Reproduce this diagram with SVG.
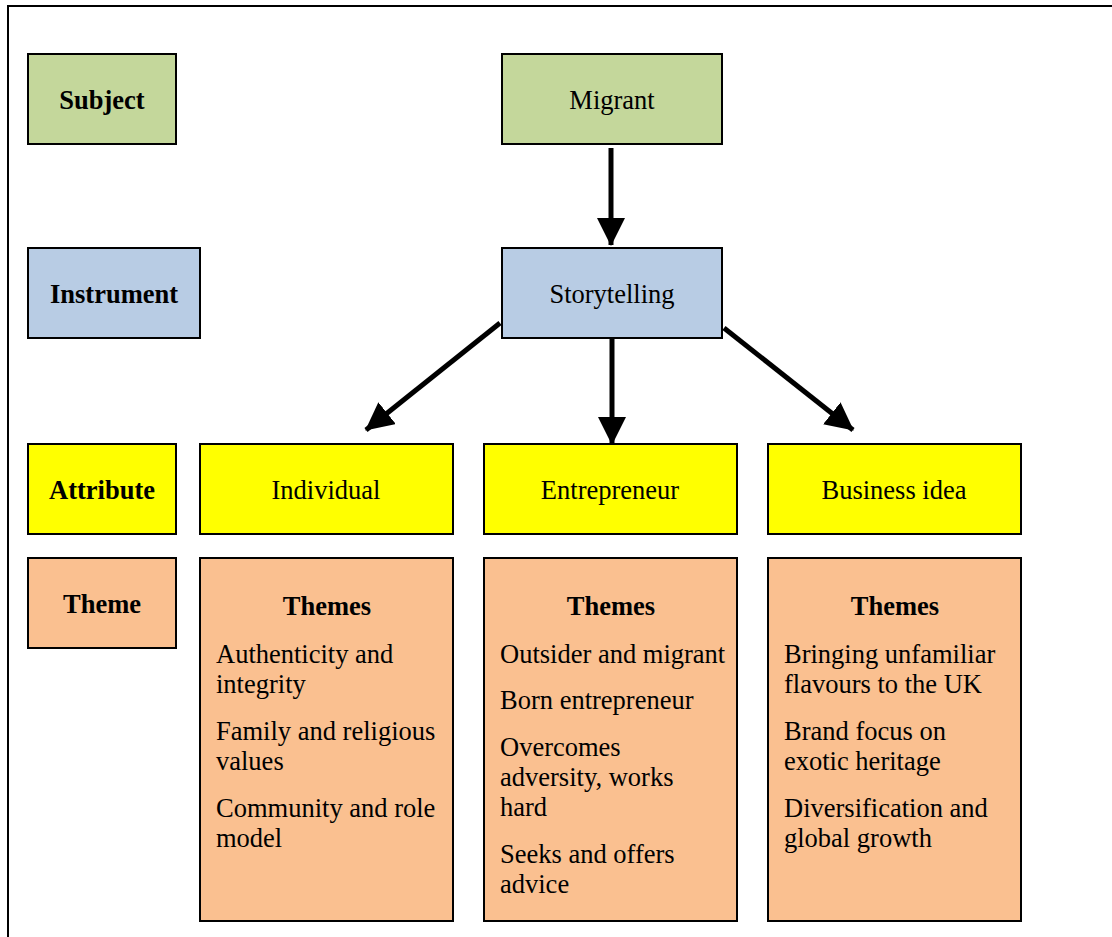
<svg xmlns="http://www.w3.org/2000/svg" width="1112" height="937" viewBox="0 0 1112 937">
<style>
.box{stroke:#000;stroke-width:2}
.g{fill:#c4d79b}.b{fill:#b8cce4}.y{fill:#ffff00}.o{fill:#fac090}
text{font-family:"Liberation Serif","Times New Roman",serif;font-size:26.5px;fill:#000}
.c{text-anchor:middle}
.bold{font-weight:bold}
.conn{stroke:#000;stroke-width:5;fill:none}
</style>
<defs>
<marker id="ah" markerUnits="userSpaceOnUse" markerWidth="28" markerHeight="28" viewBox="0 0 28 28" refX="27" refY="14" orient="auto">
<path d="M0,0 L28,14 L0,28 Z" fill="#000"/>
</marker>
</defs>
<rect x="8" y="6" width="1120" height="950" fill="#fff" stroke="#000" stroke-width="2"/>
<g id="connectors">
<line class="conn" x1="611" y1="148" x2="611" y2="245" marker-end="url(#ah)"/>
<line class="conn" x1="612" y1="339" x2="612" y2="444" marker-end="url(#ah)"/>
<line class="conn" x1="500" y1="323" x2="366" y2="430" marker-end="url(#ah)"/>
<line class="conn" x1="724" y1="328" x2="853" y2="430" marker-end="url(#ah)"/>
</g>
<g id="subject"><rect class="box g" x="28" y="54" width="148" height="90"/><text class="c bold" x="102" y="109">Subject</text></g>
<g id="migrant"><rect class="box g" x="502" y="54" width="220" height="90"/><text class="c" x="612" y="109">Migrant</text></g>
<g id="instrument"><rect class="box b" x="28" y="248" width="172" height="90"/><text class="c bold" x="114" y="303">Instrument</text></g>
<g id="storytelling"><rect class="box b" x="502" y="248" width="220" height="90"/><text class="c" x="612" y="303">Storytelling</text></g>
<g id="attribute"><rect class="box y" x="28" y="444" width="148" height="90"/><text class="c bold" x="102" y="499">Attribute</text></g>
<g id="individual"><rect class="box y" x="200" y="444" width="253" height="90"/><text class="c" x="326" y="499">Individual</text></g>
<g id="entrepreneur"><rect class="box y" x="484" y="444" width="253" height="90"/><text class="c" x="610" y="499">Entrepreneur</text></g>
<g id="business-idea"><rect class="box y" x="768" y="444" width="253" height="90"/><text class="c" x="894" y="499">Business idea</text></g>
<g id="theme"><rect class="box o" x="28" y="558" width="148" height="90"/><text class="c bold" x="102" y="613">Theme</text></g>
<g id="themes-individual"><rect class="box o" x="200" y="558" width="253" height="363"/>
<text class="c bold" x="327" y="615">Themes</text>
<text x="216" y="663">Authenticity and</text>
<text x="216" y="693">integrity</text>
<text x="216" y="740">Family and religious</text>
<text x="216" y="770">values</text>
<text x="216" y="817">Community and role</text>
<text x="216" y="847">model</text>
</g>
<g id="themes-entrepreneur"><rect class="box o" x="484" y="558" width="253" height="363"/>
<text class="c bold" x="611" y="615">Themes</text>
<text x="500" y="663">Outsider and migrant</text>
<text x="500" y="709">Born entrepreneur</text>
<text x="500" y="756">Overcomes</text>
<text x="500" y="786">adversity, works</text>
<text x="500" y="816">hard</text>
<text x="500" y="863">Seeks and offers</text>
<text x="500" y="893">advice</text>
</g>
<g id="themes-business"><rect class="box o" x="768" y="558" width="253" height="363"/>
<text class="c bold" x="895" y="615">Themes</text>
<text x="784" y="663">Bringing unfamiliar</text>
<text x="784" y="693">flavours to the UK</text>
<text x="784" y="740">Brand focus on</text>
<text x="784" y="770">exotic heritage</text>
<text x="784" y="817">Diversification and</text>
<text x="784" y="847">global growth</text>
</g>
</svg>
